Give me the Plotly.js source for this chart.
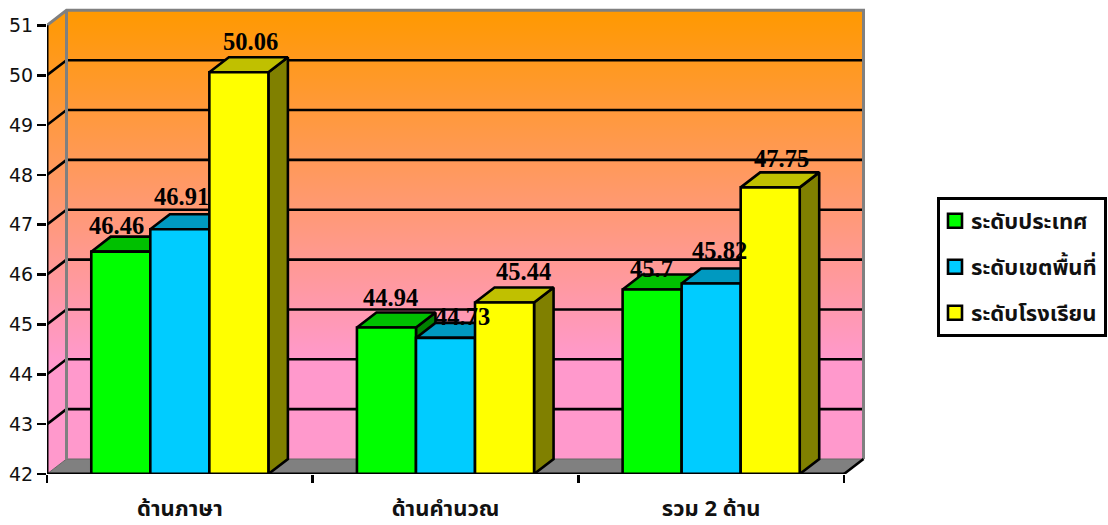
<!DOCTYPE html>
<html><head><meta charset="utf-8">
<script src="https://cdn.plot.ly/plotly-3.0.1.min.js"></script>
<style>html,body{margin:0;padding:0;background:#fff}#c{width:1108px;height:525px}</style>
</head><body><div id="c"></div>
<script>
const categories = ['ด้านภาษา', 'ด้านคำนวณ', 'รวม 2 ด้าน'];
const seriesNames = ['ระดับประเทศ', 'ระดับเขตพื้นที่', 'ระดับโรงเรียน'];
const national = [46.46, 44.94, 45.7];
const district = [46.91, 44.73, 45.82];
const school = [50.06, 45.44, 47.75];
const yTicks = [42, 43, 44, 45, 46, 47, 48, 49, 50, 51];
const frontColors = ['#00FF00', '#00CCFF', '#FFFF00'];
const topColors = ['#00C000', '#0099C0', '#C0C000'];
const sideColors = ['#008000', '#006680', '#808000'];
const labelShiftX = [[-4, 1.5, 11.5], [4, 17, 19], [-1, 8, 11]];
const labelShiftY = [[26, 33, 31], [30, 21, 31], [21, 33, 29]];

const plotW = 821, plotH = 468, unitX = 797 / 3, unitY = 49.85, axisBottomPx = 474, plotLeftPx = 47;
const dx = 19.5 / unitX, dy = 15 / unitY;
const xRange = [0, plotW / unitX], yRange = [42, 42 + plotH / unitY];
const barW = 2 / 9, series = [national, district, school];
const yMin = yTicks[0], yMax = yTicks[yTicks.length - 1], xMax = categories.length;
const centers = categories.map((_, i) => i + 0.5);
const BLACK = '#000', GREY = '#808080', LW = 2.6;

const poly = (x, y, fill, line, w) => ({type: 'scatter', mode: 'lines', x, y, fill: 'toself', fillcolor: fill,
  line: {color: line, width: w}, showlegend: false, hoverinfo: 'skip', cliponaxis: false});
const lines = (x, y, color, w, ax) => ({type: 'scatter', mode: 'lines', x, y, line: {color, width: w},
  showlegend: false, hoverinfo: 'skip', cliponaxis: false, connectgaps: false, xaxis: ax ? 'x2' : 'x', yaxis: ax ? 'y2' : 'y'});

const grad = {type: 'vertical', colorscale: [[0, '#FF99CC'], [1, '#FF9900']], start: 44.3, stop: yMax + dy};
const traces = [];
const wall = poly([dx, xMax + dx, xMax + dx, dx, dx], [yMin + dy, yMin + dy, yMax + dy, yMax + dy, yMin + dy], 'rgba(0,0,0,0)', 'rgba(0,0,0,0)', 0);
wall.fillgradient = grad; delete wall.fillcolor; traces.push(wall);
const side = poly([0, dx, dx, 0, 0], [yMin, yMin + dy, yMax + dy, yMax, yMin], 'rgba(0,0,0,0)', 'rgba(0,0,0,0)', 0);
side.fillgradient = grad; delete side.fillcolor; traces.push(side);
traces.push(poly([0, dx, xMax + dx, xMax, 0], [yMin, yMin + dy, yMin + dy, yMin, yMin], GREY, '#666', 1));
const gx = [], gy = [];
yTicks.slice(1, -1).forEach(v => { gx.push(0, dx, xMax + dx, null); gy.push(v, v + dy, v + dy, null); });
traces.push(lines(gx, gy, BLACK, LW));
traces.push(lines([0, dx, xMax + dx, xMax + dx, null, dx, dx], [yMax, yMax + dy, yMax + dy, yMin + dy, null, yMax + dy, yMin + dy], GREY, 3));
traces.push(lines([xMax, xMax + dx], [yMin, yMin + dy], BLACK, LW));
centers.forEach((c, i) => series.forEach((s, k) => {
  const l = c + (k - 1.5) * barW, r = l + barW, v = s[i];
  traces.push(poly([r, r + dx, r + dx, r, r], [yMin, yMin + dy, v + dy, v, yMin], sideColors[k], BLACK, LW));
  traces.push(poly([l, l + dx, r + dx, r, l], [v, v + dy, v + dy, v, v], topColors[k], BLACK, LW));
}));
series.forEach((s, k) => traces.push({type: 'bar', name: seriesNames[k], x: centers, y: s, xaxis: 'x2', yaxis: 'y2',
  legendgroup: 'g' + k, marker: {color: frontColors[k], line: {color: BLACK, width: LW}}, hovertemplate: '%{y}<extra></extra>'}));
traces.push(lines([0, 0, xMax], [yMax, yMin, yMin], BLACK, 3, true));

const annotations = [];
centers.forEach((c, i) => series.forEach((s, k) => annotations.push({
  xref: 'x', yref: 'y', x: c + (k - 1) * barW, y: s[i], text: String(s[i]), showarrow: false,
  xshift: labelShiftX[i][k], yshift: labelShiftY[i][k],
  font: {family: '"Liberation Serif", serif', size: 24.5, color: BLACK, weight: 700}})));

const thai = 'Tahoma, "Noto Sans Thai", "Noto Sans", "DejaVu Sans", sans-serif';
const layout = {
  width: 1108, height: 525, paper_bgcolor: '#fff', plot_bgcolor: 'rgba(0,0,0,0)',
  margin: {l: plotLeftPx, r: 1108 - plotLeftPx - plotW, t: axisBottomPx - plotH, b: 525 - axisBottomPx, pad: 0, autoexpand: false},
  barmode: 'group', bargap: 1 / 3, bargroupgap: 0,
  xaxis: {range: xRange, tickmode: 'array', tickvals: centers, ticktext: categories, ticks: '', showgrid: false, zeroline: false, showline: false,
    ticklabelstandoff: 19, tickfont: {family: thai, size: 22, color: '#111', weight: 700},
    minor: {tickmode: 'array', tickvals: [0, 1, 2, 3], ticks: 'outside', ticklen: 8, tickwidth: 2.6, tickcolor: BLACK, showgrid: false}},
  yaxis: {range: yRange, tickmode: 'array', tickvals: yTicks, ticks: 'outside', ticklen: 9, tickwidth: 2.6, tickcolor: BLACK,
    showgrid: false, zeroline: false, showline: false, tickfont: {family: '"DejaVu Sans", sans-serif', size: 19, color: '#111'}},
  xaxis2: {range: xRange, overlaying: 'x', visible: false},
  yaxis2: {range: yRange, overlaying: 'y', visible: false},
  showlegend: true,
  legend: {x: (937 - plotLeftPx) / plotW, y: (axisBottomPx - 197) / plotH, xanchor: 'left', yanchor: 'top', bgcolor: '#fff', bordercolor: BLACK, borderwidth: 3,
    traceorder: 'grouped', tracegroupgap: 14.4, font: {family: thai, size: 22, color: '#111', weight: 700}, itemclick: false, itemdoubleclick: false},
  annotations
};
Plotly.newPlot('c', traces, layout, {displayModeBar: false, staticPlot: true}).then(gd => {
  gd.querySelectorAll('.legend .legendpoints path').forEach(p => {
    if ((p.getAttribute('d') || '').includes('H-6')) { p.setAttribute('d', 'M7,7H-7V-7H7Z'); p.setAttribute('transform', 'translate(15,0)'); }
  });
  gd.querySelectorAll('.legend .legendtext').forEach(t => t.setAttribute('x', +t.getAttribute('x') - 9));
  const bg = gd.querySelector('.legend rect.bg');
  if (bg) bg.setAttribute('width', 166.5);
});
</script></body></html>
